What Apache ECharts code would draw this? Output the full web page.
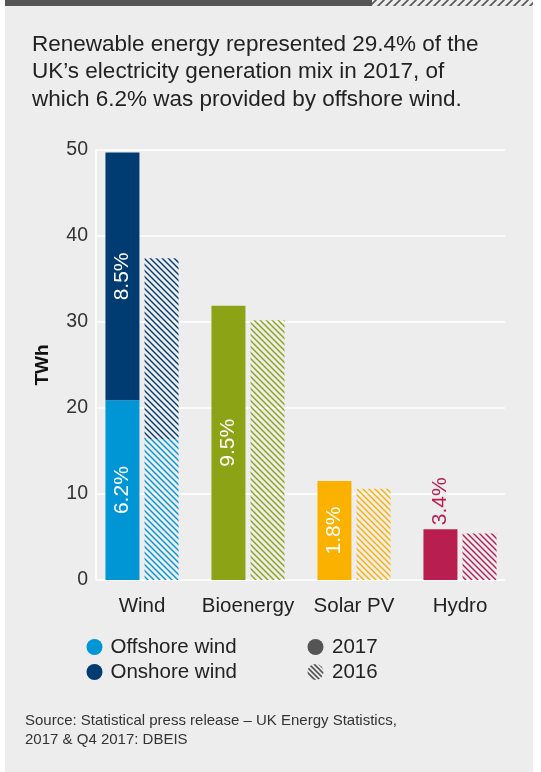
<!DOCTYPE html>
<html>
<head>
<meta charset="utf-8">
<script src="https://cdn.jsdelivr.net/npm/echarts@6/dist/echarts.min.js"></script>
<style>
html,body{margin:0;padding:0;background:#fff;}
#c{width:541px;height:772px;}
</style>
</head>
<body>
<div id="c"></div>
<script>
// ---- data ----
const categories = ['Wind', 'Bioenergy', 'Solar PV', 'Hydro'];
const base2017 = [20.9, 31.9, 11.5, 5.9];     // offshore wind / bioenergy / solar / hydro (TWh)
const onshore2017 = [28.8, null, null, null];
const base2016 = [16.4, 30.2, 10.6, 5.4];
const onshore2016 = [21.0, null, null, null];
const baseLabels = ['6.2%', '9.5%', '1.8%', '3.4%'];
const onshoreLabels = ['8.5%', '', '', ''];
const yTicks = [0, 10, 20, 30, 40, 50];

const baseColors = ['#0096d6', '#8ca315', '#fbb100', '#b81f50'];
const onshoreColor = '#003c71';
const FONT = '"Liberation Sans", Arial, sans-serif';

function hatch(color, dir, size, lw) {
  const c = document.createElement('canvas');
  c.width = size; c.height = size;
  const g = c.getContext('2d');
  g.strokeStyle = color; g.lineWidth = lw;
  g.beginPath();
  if (dir === 'back') {
    for (let k = -1; k <= 1; k++) {
      g.moveTo(k * size - 1, -1); g.lineTo(k * size + size + 1, size + 1);
    }
  } else {
    for (let k = -1; k <= 1; k++) {
      g.moveTo(k * size - 1, size + 1); g.lineTo(k * size + size + 1, -1);
    }
  }
  g.stroke();
  return { image: c, repeat: 'repeat' };
}

const chart = echarts.init(document.getElementById('c'), null, { renderer: 'canvas' });

const LBL = 21;
function baseItem(i, hatched) {
  const item = {
    value: hatched ? base2016[i] : base2017[i],
    itemStyle: { color: hatched ? hatch(baseColors[i], 'back', 6, 1.4) : baseColors[i] }
  };
  if (!hatched) {
    if (i === 3) {
      item.label = { show: true, position: 'top', rotate: 90, align: 'left', verticalAlign: 'middle',
        distance: 4, color: baseColors[i], formatter: baseLabels[i], fontSize: LBL, fontFamily: FONT };
    } else {
      item.label = { show: true, position: 'inside', rotate: 90, align: 'center', verticalAlign: 'middle',
        color: '#fff', formatter: baseLabels[i], fontSize: LBL, fontFamily: FONT };
    }
  }
  return item;
}

const option = {
  backgroundColor: '#ededed',
  animation: false,
  grid: [
    { left: 89, right: 28, top: 150, bottom: 192 },
    { left: 96, right: 36, top: 150, bottom: 192 }
  ],
  xAxis: [
    { type: 'category', gridIndex: 0, data: categories,
      axisLine: { show: false }, axisTick: { show: false },
      axisLabel: { color: '#222', fontSize: 20.5, fontFamily: FONT, margin: 16, interval: 0, hideOverlap: false } },
    { type: 'value', gridIndex: 1, show: false, min: 0, max: 1 }
  ],
  yAxis: [
    { type: 'value', gridIndex: 0, min: 0, max: 50, interval: 10, show: false },
    { type: 'value', gridIndex: 1, min: 0, max: 50, interval: 10,
      axisLine: { show: true, lineStyle: { color: '#fff', width: 1.5 } },
      axisTick: { show: false },
      splitLine: { show: true, lineStyle: { color: '#fff', width: 1.5 } },
      axisLabel: { color: '#333', fontSize: 19.5, fontFamily: FONT, margin: 8,
        formatter: v => yTicks.includes(v) ? String(v) : '' } }
  ],
  series: [
    { name: '2017 base', type: 'bar', stack: 's2017', xAxisIndex: 0, yAxisIndex: 0,
      barWidth: 34, barGap: '15%',
      data: base2017.map((v, i) => baseItem(i, false)) },
    { name: 'Onshore wind 2017', type: 'bar', stack: 's2017', xAxisIndex: 0, yAxisIndex: 0,
      barWidth: 34, barGap: '15%',
      itemStyle: { color: onshoreColor },
      label: { show: true, position: 'inside', rotate: 90, align: 'center', verticalAlign: 'middle',
        color: '#fff', fontSize: LBL, fontFamily: FONT,
        formatter: p => onshoreLabels[p.dataIndex] },
      data: onshore2017 },
    { name: '2016 base', type: 'bar', stack: 's2016', xAxisIndex: 0, yAxisIndex: 0,
      barWidth: 34, barGap: '15%',
      data: base2016.map((v, i) => baseItem(i, true)) },
    { name: 'Onshore wind 2016', type: 'bar', stack: 's2016', xAxisIndex: 0, yAxisIndex: 0,
      barWidth: 34, barGap: '15%',
      itemStyle: { color: hatch(onshoreColor, 'back', 6, 1.4) },
      data: onshore2016 }
  ],
  graphic: [
    { type: 'rect', shape: { x: 0, y: 0, width: 5, height: 772 }, style: { fill: '#fff' }, silent: true },
    { type: 'rect', shape: { x: 533, y: 0, width: 8, height: 772 }, style: { fill: '#fff' }, silent: true },
    { type: 'rect', shape: { x: 5, y: 0, width: 367, height: 6 }, style: { fill: '#555' }, silent: true },
    { type: 'rect', shape: { x: 372, y: 0, width: 161, height: 6 }, style: { fill: hatch('#555', 'fwd', 8, 1.6) }, silent: true },
    { type: 'text', left: 32, top: 31,
      style: { text: 'Renewable energy represented 29.4% of the\nUK\u2019s electricity generation mix in 2017, of\nwhich 6.2% was provided by offshore wind.',
        fill: '#222', font: '22.5px ' + FONT, lineHeight: 27.5 } },
    { type: 'text', x: 43, y: 365, rotation: Math.PI / 2,
      style: { text: 'TWh', fill: '#111', font: 'bold 19px ' + FONT, align: 'center', verticalAlign: 'middle' } },
    // legend
    { type: 'circle', shape: { cx: 94.5, cy: 647, r: 8 }, style: { fill: '#0096d6' } },
    { type: 'text', x: 110.5, y: 647, style: { text: 'Offshore wind', fill: '#222', font: '20.5px ' + FONT, verticalAlign: 'middle' } },
    { type: 'circle', shape: { cx: 94.5, cy: 672, r: 8 }, style: { fill: onshoreColor } },
    { type: 'text', x: 110.5, y: 672, style: { text: 'Onshore wind', fill: '#222', font: '20.5px ' + FONT, verticalAlign: 'middle' } },
    { type: 'circle', shape: { cx: 315.5, cy: 647, r: 8 }, style: { fill: '#555' } },
    { type: 'text', x: 332, y: 647, style: { text: '2017', fill: '#222', font: '20.5px ' + FONT, verticalAlign: 'middle' } },
    { type: 'circle', shape: { cx: 315.5, cy: 672, r: 8 }, style: { fill: hatch('#555', 'back', 5, 1.6) } },
    { type: 'text', x: 332, y: 672, style: { text: '2016', fill: '#222', font: '20.5px ' + FONT, verticalAlign: 'middle' } },
    // source
    { type: 'text', left: 25, top: 711,
      style: { text: 'Source: Statistical press release \u2013 UK Energy Statistics,\n2017 & Q4 2017: DBEIS',
        fill: '#333', font: '15px ' + FONT, lineHeight: 19 } }
  ]
};
chart.setOption(option);
</script>
</body>
</html>
